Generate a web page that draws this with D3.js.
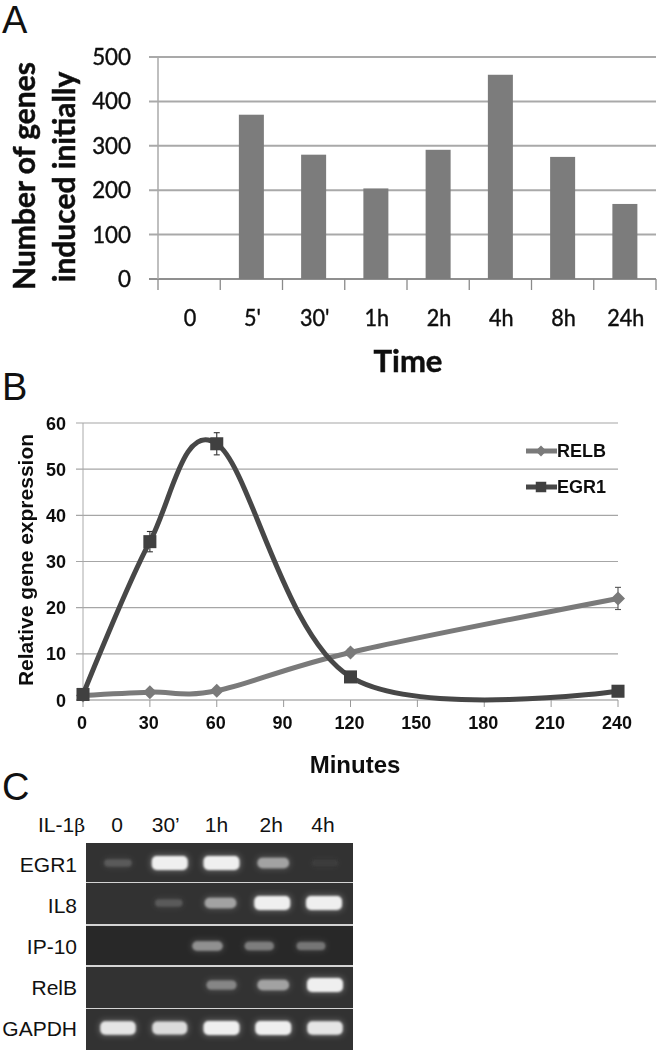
<!DOCTYPE html>
<html><head><meta charset="utf-8">
<script src="https://cdn.jsdelivr.net/npm/d3@7/dist/d3.min.js"></script>
<style>html,body{margin:0;padding:0;background:#fff}svg{display:block}text{fill:#111}</style>
</head><body><svg id="c" width="657" height="1053"></svg>
<script>
// Panel A
const timeLabels=["0","5'","30'","1h","2h","4h","8h","24h"];
const genesInduced=[0,370,280,204,291,460,275,169];
const genesTicks=[0,100,200,300,400,500];
// Panel B
const minutes=[0,30,60,120,240];
const minuteTicks=[0,30,60,90,120,150,180,210,240];
const exprTicks=[0,10,20,30,40,50,60];
const relb=[1,1.7,2,10.3,22];
const relbErr=[0.3,0.4,0.4,0.7,2.4];
const egr1=[1.2,34.3,55.5,5,1.9];
const egr1Err=[0.3,2.2,2.4,0.8,0.3];
// Panel C
const lanes=["0","30’","1h","2h","4h"];
const genes=["EGR1","IL8","IP-10","RelB","GAPDH"];
const bandEGR1=[0.2,1,1,0.6,0.02];
const bandIL8=[0,0.2,0.6,1,1];
const bandIP10=[0,0,0.5,0.4,0.35];
const bandRelB=[0,0,0.45,0.6,1];
const bandGAPDH=[0.95,0.9,1,1,0.95];
const bandSets=[bandEGR1,bandIL8,bandIP10,bandRelB,bandGAPDH];

const svg=d3.select("#c");
const defs=svg.append("defs");
const blur=(id,s)=>defs.append("filter").attr("id",id).attr("x","-30%").attr("y","-60%").attr("width","160%").attr("height","220%")
  .append("feGaussianBlur").attr("stdDeviation",s);
blur("soft",0.5);blur("b1",1.2);blur("b2",3);
const SANS="'Liberation Sans',Arial,sans-serif", CAL="Lato,'Open Sans',sans-serif";
const condense=(sel,f)=>sel.each(function(){const n=this.getComputedTextLength();
  d3.select(this).attr("textLength",n*f).attr("lengthAdjust","spacingAndGlyphs");});

// panel letters
[["A",2,33],["B",2,400],["C",2,800]].forEach(([t,x,y])=>svg.append("text").attr("x",x).attr("y",y)
  .attr("font-family",SANS).attr("font-size",38).attr("fill","#111").text(t));

// ---- A
const ax=svg.append("g").attr("filter","url(#soft)");
const xA=d3.scaleBand().domain(timeLabels).range([158,656]);
const yA=d3.scaleLinear().domain([0,500]).range([279,57]);
ax.append("g").selectAll("line").data(genesTicks).join("line")
  .attr("x1",149).attr("x2",656).attr("y1",d=>yA(d)).attr("y2",d=>yA(d))
  .attr("stroke",d=>d==0?"#8f8f8f":"#a9a9a9").attr("stroke-width",2);
ax.append("line").attr("x1",158).attr("x2",158).attr("y1",yA(500)).attr("y2",yA(0)).attr("stroke","#aaa").attr("stroke-width",1.5);
ax.append("g").selectAll("line").data(d3.range(timeLabels.length+1)).join("line")
  .attr("x1",i=>158+i*xA.step()).attr("x2",i=>158+i*xA.step()).attr("y1",yA(0)).attr("y2",290)
  .attr("stroke","#8a8a8a").attr("stroke-width",1.3);
ax.append("g").selectAll("rect").data(timeLabels).join("rect")
  .attr("x",d=>xA(d)+xA.bandwidth()/2-12.5).attr("width",25)
  .attr("y",(d,i)=>yA(genesInduced[i])).attr("height",(d,i)=>yA(0)-yA(genesInduced[i]))
  .attr("fill","#7c7c7c");
ax.append("g").selectAll("text").data(genesTicks).join("text")
  .attr("x",131).attr("y",d=>yA(d)+8).attr("text-anchor","end").attr("font-family",CAL).attr("font-size",24)
  .style("stroke","#111").style("stroke-width",0.45).text(d=>d).call(condense,0.93);
ax.append("g").selectAll("text").data(timeLabels).join("text")
  .attr("x",d=>xA(d)+xA.bandwidth()/2+1).attr("y",326).attr("text-anchor","middle").attr("font-family",CAL).attr("font-size",24)
  .style("stroke","#111").style("stroke-width",0.45).text(d=>d).call(condense,0.9);
ax.append("text").attr("x",408).attr("y",372).attr("text-anchor","middle").attr("font-family",CAL).attr("font-weight",700).attr("font-size",31)
  .style("stroke","#111").style("stroke-width",0.5).text("Time");
ax.append("text").attr("transform","translate(35,176) rotate(-90)").attr("text-anchor","middle").attr("font-family",CAL).attr("font-weight",700).attr("font-size",30)
  .style("stroke","#111").style("stroke-width",0.5).text("Number of genes");
ax.append("text").attr("transform","translate(75,177) rotate(-90)").attr("text-anchor","middle").attr("font-family",CAL).attr("font-weight",700).attr("font-size",30)
  .style("stroke","#111").style("stroke-width",0.5).text("induced initially");

// ---- B
const bx=svg.append("g").attr("filter","url(#soft)");
const xB=d3.scaleLinear().domain([0,240]).range([83,618]);
const yB=d3.scaleLinear().domain([0,60]).range([700,423]);
bx.append("g").selectAll("line").data(exprTicks).join("line")
  .attr("x1",76).attr("x2",618).attr("y1",d=>yB(d)).attr("y2",d=>yB(d))
  .attr("stroke",d=>d==0?"#8a8a8a":"#a6a6a6").attr("stroke-width",1.2);
bx.append("line").attr("x1",83).attr("x2",83).attr("y1",yB(60)).attr("y2",yB(0)).attr("stroke","#aaa").attr("stroke-width",1);
bx.append("g").selectAll("line").data(minuteTicks).join("line")
  .attr("x1",d=>xB(d)).attr("x2",d=>xB(d)).attr("y1",yB(0)).attr("y2",707).attr("stroke","#999");
const line=d3.line().x(d=>xB(d[0])).y(d=>yB(d[1])).curve(d3.curveCatmullRom.alpha(0));
const errs=(vals,errsv,col)=>{const g=bx.append("g").attr("stroke",col).attr("stroke-width",1.1);
  minutes.forEach((m,i)=>{const x=xB(m),a=yB(vals[i]-errsv[i]),b=yB(vals[i]+errsv[i]);
    g.append("line").attr("x1",x).attr("x2",x).attr("y1",a).attr("y2",b);
    [a,b].forEach(y=>g.append("line").attr("x1",x-3).attr("x2",x+3).attr("y1",y).attr("y2",y));});};
errs(relb,relbErr,"#555");errs(egr1,egr1Err,"#333");
const RC="#7a7a7a",EC="#474747";
bx.append("path").datum(minutes.map((m,i)=>[m,relb[i]])).attr("d",line).attr("fill","none").attr("stroke",RC).attr("stroke-width",5);
bx.append("path").datum(minutes.map((m,i)=>[m,egr1[i]])).attr("d",line).attr("fill","none").attr("stroke",EC).attr("stroke-width",5);
const diamond=d3.symbol().type(d3.symbolDiamond2).size(125), square=d3.symbol().type(d3.symbolSquare).size(170);
bx.append("g").selectAll("path").data(minutes).join("path").attr("transform",(m,i)=>`translate(${xB(m)},${yB(relb[i])})`).attr("d",diamond).attr("fill",RC);
bx.append("g").selectAll("path").data(minutes).join("path").attr("transform",(m,i)=>`translate(${xB(m)},${yB(egr1[i])})`).attr("d",square).attr("fill","#3f3f3f");
bx.append("g").selectAll("text").data(exprTicks).join("text").attr("x",66).attr("y",d=>yB(d)+6.5).attr("text-anchor","end")
  .attr("font-family",SANS).attr("font-weight",700).attr("font-size",18).text(d=>d);
bx.append("g").selectAll("text").data(minuteTicks).join("text").attr("x",d=>xB(d)-1).attr("y",729).attr("text-anchor","middle")
  .attr("font-family",SANS).attr("font-weight",700).attr("font-size",18).text(d=>d);
bx.append("text").attr("x",355).attr("y",773).attr("text-anchor","middle").attr("font-family",SANS).attr("font-weight",700).attr("font-size",24).text("Minutes");
bx.append("text").attr("transform","translate(33,560) rotate(-90)").attr("text-anchor","middle").attr("font-family",SANS).attr("font-weight",700).attr("font-size",21).text("Relative gene expression");
const legDiamond=d3.symbol().type(d3.symbolDiamond2).size(75), legSquare=d3.symbol().type(d3.symbolSquare).size(110);
[["RELB",451,RC,legDiamond,"#7a7a7a"],["EGR1",487,EC,legSquare,"#3f3f3f"]].forEach(([t,y,c,s,f])=>{
  bx.append("line").attr("x1",526).attr("x2",557).attr("y1",y).attr("y2",y).attr("stroke",c).attr("stroke-width",5);
  bx.append("path").attr("transform",`translate(541,${y})`).attr("d",s).attr("fill",f);
  bx.append("text").attr("x",557).attr("y",y+6).attr("font-family",SANS).attr("font-weight",700).attr("font-size",18).text(t);
});

// ---- C
const rowTops=[843,883,926,967,1009], rowBots=[882,924,965,1008,1050];
const rowBaselines=[872,913,954,995,1036];
const rowCentres=[863,903,946,985,1028];
const rowShift=[0,-1,-14,0,0];
const xC=d3.scalePoint().domain(lanes).range([118,325]);
const cg=svg.append("g");
cg.append("rect").attr("x",86).attr("y",843).attr("width",267).attr("height",207).attr("fill","#d4d4d4");
genes.forEach((g,r)=>{
  const t=rowTops[r],b=rowBots[r],cy=rowCentres[r];
  cg.append("rect").attr("x",86).attr("y",t).attr("width",267).attr("height",b-t).attr("fill",r==2?"#282828":"#323232");
  const row=cg.append("g");
  lanes.forEach((l,i)=>{
    const v=bandSets[r][i]; if(v<=0) return;
    const w=25+v*11, h=5+v*9, x=xC(l)+rowShift[r];
    row.append("rect").attr("x",x-w/2-1).attr("y",cy-h/2-1).attr("width",w+2).attr("height",h+2).attr("rx",5)
      .attr("fill","#fff").attr("opacity",0.05+v*0.22).attr("filter","url(#b2)");
    row.append("rect").attr("x",x-w/2).attr("y",cy-h/2).attr("width",w).attr("height",h).attr("rx",Math.min(h/2,5))
      .attr("fill",d3.interpolateRgb("#3c3c3c","#efefef")(Math.pow(v,1.1))).attr("filter","url(#b1)");
  });
  cg.append("text").attr("x",77).attr("y",rowBaselines[r]).attr("text-anchor","end").attr("font-family",SANS).attr("font-size",21).text(g);
});
const laneNudge=[-1,-4,-5,-2,-2];
cg.append("g").selectAll("text").data(lanes).join("text").attr("x",(d,i)=>xC(d)+laneNudge[i]).attr("y",832).attr("text-anchor","middle")
  .attr("font-family",SANS).attr("font-size",21).text(d=>d);
const il=cg.append("text").attr("x",38).attr("y",832).attr("font-family",SANS).attr("font-size",21);
il.append("tspan").text("IL-1");il.append("tspan").attr("font-family","'DejaVu Serif',serif").attr("font-size",19).text("β");
</script></body></html>
